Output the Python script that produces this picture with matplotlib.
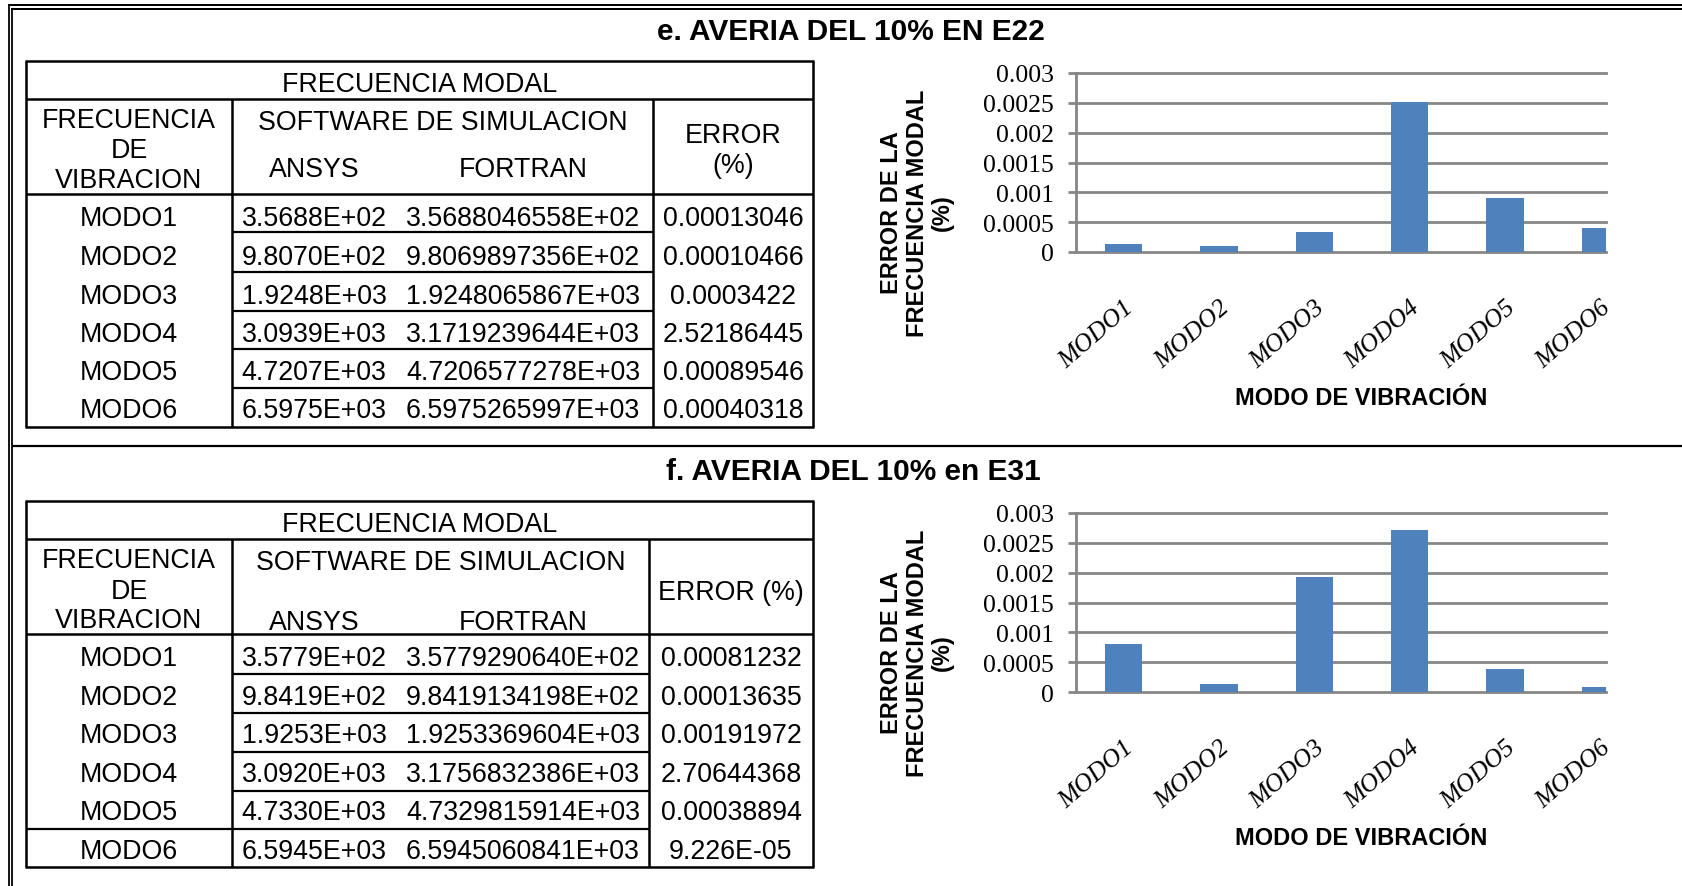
import matplotlib
matplotlib.use("Agg")
import matplotlib.pyplot as plt
import numpy as np

W, H, DPI = 1682, 887, 100

# ---------------- data ----------------
modes = ["MODO1", "MODO2", "MODO3", "MODO4", "MODO5", "MODO6"]

title_e = "e. AVERIA DEL 10% EN E22"
ansys_e = ["3.5688E+02", "9.8070E+02", "1.9248E+03", "3.0939E+03", "4.7207E+03", "6.5975E+03"]
fortran_e = ["3.5688046558E+02", "9.8069897356E+02", "1.9248065867E+03",
             "3.1719239644E+03", "4.7206577278E+03", "6.5975265997E+03"]
error_e = ["0.00013046", "0.00010466", "0.0003422", "2.52186445", "0.00089546", "0.00040318"]
chart_e = [0.00013, 0.00010, 0.00034, 0.00252, 0.00090, 0.00040]

title_f = "f. AVERIA DEL 10% en E31"
ansys_f = ["3.5779E+02", "9.8419E+02", "1.9253E+03", "3.0920E+03", "4.7330E+03", "6.5945E+03"]
fortran_f = ["3.5779290640E+02", "9.8419134198E+02", "1.9253369604E+03",
             "3.1756832386E+03", "4.7329815914E+03", "6.5945060841E+03"]
error_f = ["0.00081232", "0.00013635", "0.00191972", "2.70644368", "0.00038894", "9.226E-05"]
chart_f = [0.00081, 0.00014, 0.00192, 0.00271, 0.00039, 0.00009]

y_ticks = [0, 0.0005, 0.001, 0.0015, 0.002, 0.0025, 0.003]
y_tick_labels = ["0", "0.0005", "0.001", "0.0015", "0.002", "0.0025", "0.003"]

hdr_modal = "FRECUENCIA MODAL"
hdr_freq = ["FRECUENCIA", "DE", "VIBRACION"]
hdr_soft = "SOFTWARE DE SIMULACION"
hdr_ansys = "ANSYS"
hdr_fortran = "FORTRAN"
y_label = "ERROR DE LA\nFRECUENCIA MODAL\n(%)"
x_label = "MODO DE VIBRACIÓN"

# ---------------- figure ----------------
fig = plt.figure(figsize=(W / DPI, H / DPI), dpi=DPI)
bg = fig.add_axes([0, 0, 1, 1])
bg.set_xlim(0, W)
bg.set_ylim(H, 0)
bg.axis("off")

SANS = "Liberation Sans"
SERIF = "Liberation Serif"


def pt(px):
    return px * 72.0 / DPI


def hline(y, x0, x1, lw=2.5):
    bg.plot([x0, x1], [y, y], color="black", lw=pt(lw), solid_capstyle="butt")


def vline(x, y0, y1, lw=2.5):
    bg.plot([x, x], [y0, y1], color="black", lw=pt(lw), solid_capstyle="butt")


def txt(x, y, s, size, weight="normal"):
    em = size * DPI / 72.0
    bg.text(x, y + 0.355 * em, s, fontsize=size, fontweight=weight,
            ha="center", va="baseline", family=SANS, color="black")


TS = 19.3  # table font size

# outer frame (double lines) and divider
hline(6, 8, W, lw=2)
hline(10, 11.5, W, lw=2)
vline(9, 5, H, lw=1.8)
vline(12, 9, H, lw=1.8)
hline(447, 12, W, lw=2.2)


def draw_table(top, hdr, sub, bottom, c1, c3, row_lines, full_idx, row_c,
               ansys, fortran, error, two_line_err, freq_y, soft_y, af_y, err_y):
    L, R = 26, 813
    hline(top, L - 1.2, R + 1.2, 2.5)
    hline(bottom, L - 1.2, R + 1.2, 2.5)
    vline(L, top, bottom, 2.5)
    vline(R, top, bottom, 2.5)
    hline(hdr, L, R, 2.5)
    hline(sub, L, R, 2.5)
    vline(c1, hdr, bottom, 2.5)
    vline(c3, hdr, bottom, 2.5)
    for i, y in enumerate(row_lines):
        x0 = L if i == full_idx else c1
        hline(y, x0, c3, 2.2)
    txt((L + R) / 2, (top + hdr) / 2 + 1, hdr_modal, TS)
    for s, yy in zip(hdr_freq, freq_y):
        txt((L + c1) / 2, yy, s, TS)
    txt((c1 + c3) / 2, soft_y, hdr_soft, TS)
    txt(314, af_y, hdr_ansys, TS)
    txt(523, af_y, hdr_fortran, TS)
    if two_line_err:
        txt((c3 + R) / 2, err_y[0], "ERROR", TS)
        txt((c3 + R) / 2, err_y[1], "(%)", TS)
    else:
        txt((c3 + R) / 2, err_y[0], "ERROR (%)", TS)
    for m, a, f, e, yy in zip(modes, ansys, fortran, error, row_c):
        txt((L + c1) / 2, yy, m, TS)
        txt(314, yy, a, TS)
        txt(523, yy, f, TS)
        txt((c3 + R) / 2, yy, e, TS)


draw_table(62, 100, 195, 428, 232, 653, [233, 273, 312, 350, 389], -1,
           [216, 255, 294, 332, 370, 408], ansys_e, fortran_e, error_e, True,
           [118, 148, 178], 120, 167, (133, 163))
draw_table(502, 540, 635, 868, 232, 649, [675, 714, 753, 792, 830], 4,
           [656, 695, 733, 772, 810, 849], ansys_f, fortran_f, error_f, False,
           [558, 589, 618], 560, 620, (590,))

TT = 21.5
bg.text(851, 29 + 0.355 * TT * DPI / 72, title_e, fontsize=TT, fontweight="bold",
        ha="center", va="baseline", family=SANS)
bg.text(853, 469 + 0.355 * TT * DPI / 72, title_f, fontsize=TT, fontweight="bold",
        ha="center", va="baseline", family=SANS)

GRID = "#868686"
BAR = "#4F81BD"


def chart(top_px, values):
    left, right = 1076, 1606
    bottom = top_px + 179
    ax = fig.add_axes([left / W, 1 - bottom / H, (right - left) / W, (bottom - top_px) / H])
    x = np.arange(len(modes))
    ax.bar(x, values, width=0.39, color=BAR, zorder=3)
    ax.set_xlim(-0.5, 5.06)
    ax.set_ylim(0, 0.003)
    ax.set_yticks(y_ticks)
    ax.set_yticklabels(y_tick_labels, family=SERIF, fontsize=18.5)
    ax.yaxis.grid(True, color=GRID, lw=2.0, zorder=1)
    for gl in ax.get_ygridlines():
        gl.set_clip_on(False)
    ax.set_axisbelow(True)
    for s in ("top", "right", "bottom"):
        ax.spines[s].set_visible(False)
    ax.spines["left"].set_color(GRID)
    ax.spines["left"].set_linewidth(2.0)
    ax.tick_params(axis="y", length=6, width=2, color=GRID, pad=10)
    ax.set_xticks(x)
    ax.set_xticklabels(modes, rotation=41, ha="right", va="top", rotation_mode="anchor",
                       fontstyle="italic", family=SERIF, fontsize=18.5)
    ax.tick_params(axis="x", length=0, pad=32)
    ax.set_ylabel(y_label, fontsize=17, fontweight="bold", family=SANS,
                  va="center", ha="center", multialignment="center", linespacing=1.15)
    ax.yaxis.set_label_coords((917 - left) / (right - left), (253 - 213) / 179)
    ax.set_xlabel(x_label, fontsize=17, fontweight="bold", family=SANS, va="center")
    ax.xaxis.set_label_coords((1361 - left) / (right - left), -(399 - 253) / 179)
    ax.patch.set_alpha(0)
    return ax


chart(74, chart_e)
chart(514, chart_f)

fig.savefig("out.png", dpi=DPI)
